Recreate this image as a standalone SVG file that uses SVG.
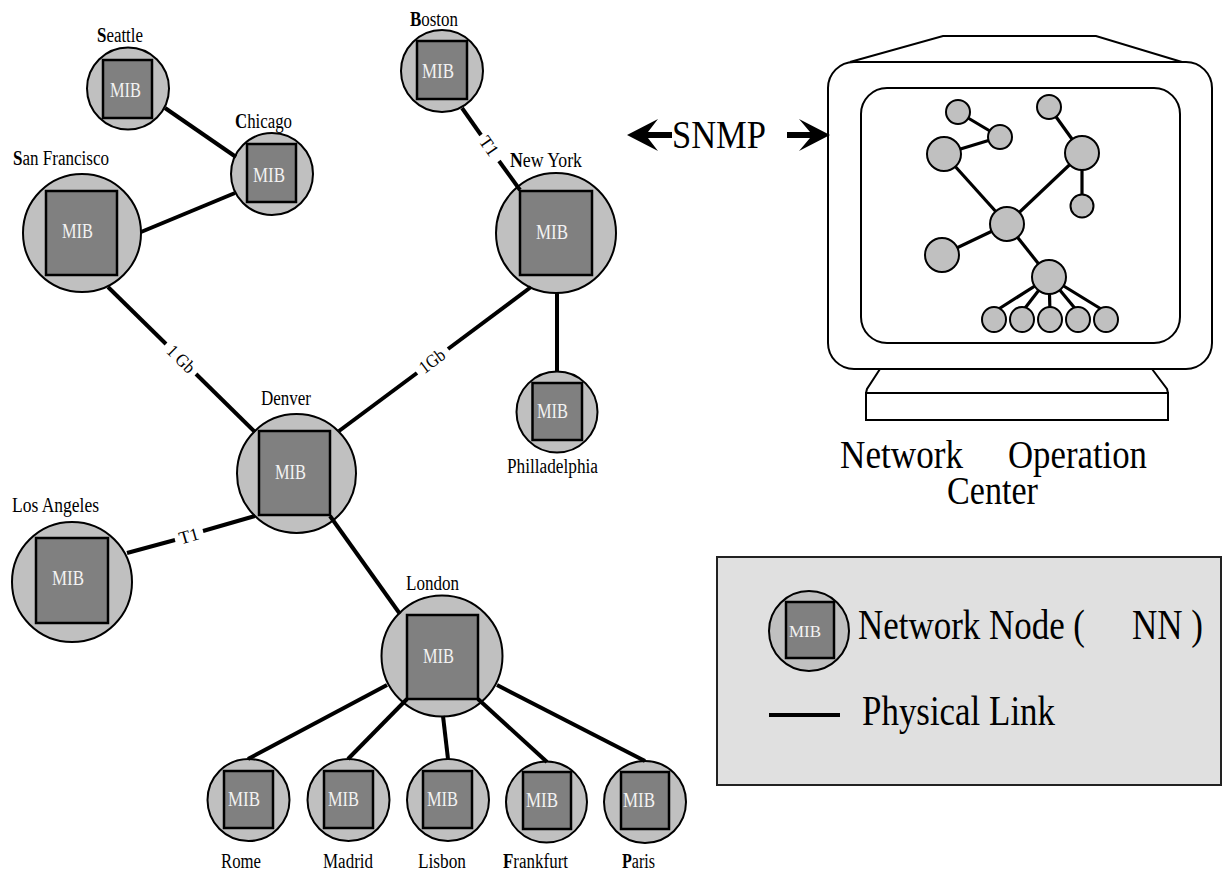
<svg xmlns="http://www.w3.org/2000/svg" width="1222" height="872" viewBox="0 0 1222 872">
  <style>
    text { font-family: "Liberation Serif", "Times New Roman", serif; }
    .ring { fill: #c0c0c0; stroke: #000; stroke-width: 2; }
    .mib { fill: #808080; stroke: #000; stroke-width: 2.5; }
    .mibt { font-size: 20px; fill: #f2f2f2; }
    .mibs { font-size: 17px; fill: #f2f2f2; }
    .city { font-size: 20px; fill: #000; }
    .link { stroke: #000; stroke-width: 4; fill: none; }
    .llab { font-size: 18px; fill: #000; }
    .snmp { font-size: 39px; fill: #000; }
    .noc { font-size: 39px; fill: #000; }
    .key { font-size: 42px; fill: #000; }
    .mon { fill: none; stroke: #000; stroke-width: 2; }
    .dot { fill: #c0c0c0; stroke: #000; stroke-width: 2; }
    .tree { stroke: #000; stroke-width: 3.2; fill: none; }
    .b { font-weight: bold; }
  </style>

  <!-- network nodes: ring, MIB box, caption -->
  <g id="seattle">
    <circle class="ring" cx="128" cy="88.5" r="41"/>
    <rect class="mib" x="103" y="60" width="49" height="58"/>
    <text class="mibt" x="110" y="97" textLength="31" lengthAdjust="spacingAndGlyphs">MIB</text>
    <text class="city" x="97" y="42" textLength="46" lengthAdjust="spacingAndGlyphs"><tspan class="b">S</tspan>eattle</text>
  </g>
  <g id="chicago">
    <circle class="ring" cx="272" cy="174" r="41"/>
    <rect class="mib" x="247" y="144" width="49" height="58"/>
    <text class="mibt" x="253" y="182" textLength="32" lengthAdjust="spacingAndGlyphs">MIB</text>
    <text class="city" x="235" y="128" textLength="57" lengthAdjust="spacingAndGlyphs"><tspan class="b">C</tspan>hicago</text>
  </g>
  <g id="san-francisco">
    <circle class="ring" cx="82" cy="233" r="59"/>
    <rect class="mib" x="46" y="191" width="71" height="84"/>
    <text class="mibt" x="62" y="238" textLength="31" lengthAdjust="spacingAndGlyphs">MIB</text>
    <text class="city" x="13" y="165" textLength="96" lengthAdjust="spacingAndGlyphs"><tspan class="b">S</tspan>an Francisco</text>
  </g>
  <g id="boston">
    <circle class="ring" cx="442" cy="71" r="41"/>
    <rect class="mib" x="417" y="41" width="50" height="58"/>
    <text class="mibt" x="422" y="78" textLength="32" lengthAdjust="spacingAndGlyphs">MIB</text>
    <text class="city" x="410" y="26" textLength="48" lengthAdjust="spacingAndGlyphs"><tspan class="b">B</tspan>oston</text>
  </g>
  <g id="new-york">
    <circle class="ring" cx="556" cy="233" r="60"/>
    <rect class="mib" x="520" y="191" width="72" height="84"/>
    <text class="mibt" x="536" y="239" textLength="32" lengthAdjust="spacingAndGlyphs">MIB</text>
    <text class="city" x="510" y="167" textLength="72" lengthAdjust="spacingAndGlyphs"><tspan class="b">N</tspan>ew York</text>
  </g>
  <g id="philadelphia">
    <circle class="ring" cx="557" cy="412" r="40.5"/>
    <rect class="mib" x="532.5" y="383" width="49.5" height="57"/>
    <text class="mibt" x="537" y="418" textLength="31" lengthAdjust="spacingAndGlyphs">MIB</text>
    <text class="city" x="507" y="473" textLength="91" lengthAdjust="spacingAndGlyphs">Philladelphia</text>
  </g>
  <g id="denver">
    <circle class="ring" cx="296.5" cy="473.5" r="59.5"/>
    <rect class="mib" x="259" y="431" width="71" height="84"/>
    <text class="mibt" x="275" y="479" textLength="31" lengthAdjust="spacingAndGlyphs">MIB</text>
    <text class="city" x="261" y="405" textLength="50" lengthAdjust="spacingAndGlyphs">Denver</text>
  </g>
  <g id="los-angeles">
    <circle class="ring" cx="72" cy="582" r="60"/>
    <rect class="mib" x="36" y="538" width="72" height="85"/>
    <text class="mibt" x="52" y="585" textLength="32" lengthAdjust="spacingAndGlyphs">MIB</text>
    <text class="city" x="12" y="512" textLength="87" lengthAdjust="spacingAndGlyphs">Los Angeles</text>
  </g>
  <g id="london">
    <circle class="ring" cx="442" cy="656" r="60.5"/>
    <rect class="mib" x="407" y="615" width="71" height="84"/>
    <text class="mibt" x="423" y="663" textLength="31" lengthAdjust="spacingAndGlyphs">MIB</text>
    <text class="city" x="406" y="590" textLength="53" lengthAdjust="spacingAndGlyphs">London</text>
  </g>
  <g id="rome">
    <circle class="ring" cx="248.5" cy="800" r="41"/>
    <rect class="mib" x="224" y="771" width="49" height="57"/>
    <text class="mibt" x="228" y="806" textLength="32" lengthAdjust="spacingAndGlyphs">MIB</text>
    <text class="city" x="221" y="868" textLength="40" lengthAdjust="spacingAndGlyphs">Rome</text>
  </g>
  <g id="madrid">
    <circle class="ring" cx="348.5" cy="800" r="41"/>
    <rect class="mib" x="324" y="771" width="49" height="57"/>
    <text class="mibt" x="328" y="806" textLength="31" lengthAdjust="spacingAndGlyphs">MIB</text>
    <text class="city" x="323" y="868" textLength="50" lengthAdjust="spacingAndGlyphs">Madrid</text>
  </g>
  <g id="lisbon">
    <circle class="ring" cx="448" cy="800" r="41"/>
    <rect class="mib" x="423" y="771" width="49" height="57"/>
    <text class="mibt" x="427" y="806" textLength="31" lengthAdjust="spacingAndGlyphs">MIB</text>
    <text class="city" x="418" y="868" textLength="48" lengthAdjust="spacingAndGlyphs">Lisbon</text>
  </g>
  <g id="frankfurt">
    <circle class="ring" cx="546.5" cy="802" r="40.5"/>
    <rect class="mib" x="523" y="772" width="48" height="57"/>
    <text class="mibt" x="526" y="807" textLength="32" lengthAdjust="spacingAndGlyphs">MIB</text>
    <text class="city" x="503" y="868" textLength="65" lengthAdjust="spacingAndGlyphs"><tspan class="b">F</tspan>rankfurt</text>
  </g>
  <g id="paris">
    <circle class="ring" cx="645" cy="802" r="41"/>
    <rect class="mib" x="621" y="772" width="48" height="57"/>
    <text class="mibt" x="623" y="807" textLength="32" lengthAdjust="spacingAndGlyphs">MIB</text>
    <text class="city" x="622" y="868" textLength="33" lengthAdjust="spacingAndGlyphs"><tspan class="b">P</tspan>aris</text>
  </g>

  <!-- physical links and their bandwidth labels -->
  <g id="links">
    <line class="link" x1="165" y1="108" x2="236" y2="157"/>
    <line class="link" x1="141" y1="232" x2="235" y2="193"/>
    <line class="link" x1="108" y1="287" x2="166" y2="344"/>
    <line class="link" x1="196" y1="374" x2="255" y2="432"/>
    <text class="llab" transform="translate(181,359) rotate(44.6)" x="0" y="6" text-anchor="middle" textLength="32" lengthAdjust="spacingAndGlyphs">1 Gb</text>
    <line class="link" x1="339" y1="431" x2="417" y2="373"/>
    <line class="link" x1="448" y1="349" x2="531" y2="287"/>
    <text class="llab" transform="translate(432,361) rotate(-37)" x="0" y="6" text-anchor="middle" textLength="28" lengthAdjust="spacingAndGlyphs">1Gb</text>
    <line class="link" x1="462" y1="108" x2="481" y2="135"/>
    <line class="link" x1="499" y1="161" x2="520" y2="190"/>
    <text class="llab" transform="translate(489,146) rotate(55)" x="0" y="6" text-anchor="middle">T1</text>
    <line class="link" x1="557" y1="293" x2="557" y2="372"/>
    <line class="link" x1="127" y1="553" x2="175" y2="540"/>
    <line class="link" x1="203" y1="531" x2="255" y2="516"/>
    <text class="llab" transform="translate(189,536) rotate(-16)" x="0" y="6" text-anchor="middle">T1</text>
    <line class="link" x1="330" y1="516" x2="400" y2="614"/>
    <line class="link" x1="387" y1="685" x2="248" y2="759"/>
    <line class="link" x1="407" y1="699" x2="348" y2="759"/>
    <line class="link" x1="443" y1="716" x2="448" y2="759"/>
    <line class="link" x1="478" y1="699" x2="547" y2="762"/>
    <line class="link" x1="497" y1="685" x2="645" y2="761"/>
  </g>

  <!-- SNMP exchange arrows -->
  <g id="snmp">
    <polygon points="627,135 658,119 648,132 672,132 672,138 648,138 658,151" fill="#000"/>
    <text class="snmp" x="672" y="148" textLength="94" lengthAdjust="spacingAndGlyphs">SNMP</text>
    <polygon points="787,132 810,132 799,119 830,135 799,151 810,138 787,138" fill="#000"/>
  </g>

  <!-- management station monitor with topology view -->
  <g id="noc">
    <polyline class="mon" points="850,62 943,36 1096,36 1182,62"/>
    <rect class="mon" x="828" y="62" width="384" height="307" rx="26"/>
    <rect class="mon" x="861" y="88" width="319" height="255" rx="26"/>
    <polyline class="mon" points="880,369 867,389 866,393"/>
    <polyline class="mon" points="1152,369 1167,389 1168,393"/>
    <rect class="mon" x="866" y="393" width="302" height="27"/>
    <g class="tree">
      <line x1="958" y1="112" x2="1000" y2="137"/>
      <line x1="1000" y1="137" x2="944" y2="154"/>
      <line x1="944" y1="154" x2="1007" y2="224"/>
      <line x1="1049" y1="107" x2="1082" y2="153"/>
      <line x1="1082" y1="153" x2="1007" y2="224"/>
      <line x1="1082" y1="153" x2="1082" y2="206"/>
      <line x1="1007" y1="224" x2="942" y2="255"/>
      <line x1="1007" y1="224" x2="1049" y2="277"/>
      <line x1="1049" y1="277" x2="994" y2="312"/>
      <line x1="1049" y1="277" x2="1022" y2="312"/>
      <line x1="1049" y1="277" x2="1050" y2="312"/>
      <line x1="1049" y1="277" x2="1078" y2="312"/>
      <line x1="1049" y1="277" x2="1106" y2="312"/>
    </g>
    <circle class="dot" cx="958" cy="112" r="12"/>
    <circle class="dot" cx="1000" cy="137" r="12"/>
    <circle class="dot" cx="944" cy="154" r="17"/>
    <circle class="dot" cx="1049" cy="107" r="12"/>
    <circle class="dot" cx="1082" cy="153" r="17"/>
    <circle class="dot" cx="1082" cy="206" r="11.5"/>
    <circle class="dot" cx="1007" cy="224" r="17"/>
    <circle class="dot" cx="942" cy="255" r="17"/>
    <circle class="dot" cx="1049" cy="277" r="17"/>
    <ellipse class="dot" cx="994" cy="319.5" rx="12" ry="12.5"/>
    <ellipse class="dot" cx="1022" cy="319.5" rx="12" ry="12.5"/>
    <ellipse class="dot" cx="1050" cy="319.5" rx="12" ry="12.5"/>
    <ellipse class="dot" cx="1078" cy="319.5" rx="12" ry="12.5"/>
    <ellipse class="dot" cx="1106" cy="319.5" rx="12" ry="12.5"/>
    <text class="noc" x="840" y="468" textLength="123" lengthAdjust="spacingAndGlyphs">Network</text>
    <text class="noc" x="1008" y="468" textLength="139" lengthAdjust="spacingAndGlyphs">Operation</text>
    <text class="noc" x="947" y="504" textLength="91" lengthAdjust="spacingAndGlyphs">Center</text>
  </g>

  <!-- key -->
  <g id="legend">
    <rect x="717" y="557" width="504" height="228" fill="#e0e0e0" stroke="#222" stroke-width="2"/>
    <circle class="ring" cx="809" cy="631" r="40"/>
    <rect class="mib" x="786" y="602" width="48" height="56"/>
    <text class="mibs" x="789" y="637" textLength="32" lengthAdjust="spacingAndGlyphs">MIB</text>
    <text class="key" x="858" y="639" textLength="227" lengthAdjust="spacingAndGlyphs">Network Node (</text>
    <text class="key" x="1132" y="639" textLength="71" lengthAdjust="spacingAndGlyphs">NN )</text>
    <line class="link" x1="769" y1="715" x2="840" y2="715" stroke-width="3.5"/>
    <text class="key" x="862" y="725" textLength="193" lengthAdjust="spacingAndGlyphs">Physical Link</text>
  </g>
</svg>
